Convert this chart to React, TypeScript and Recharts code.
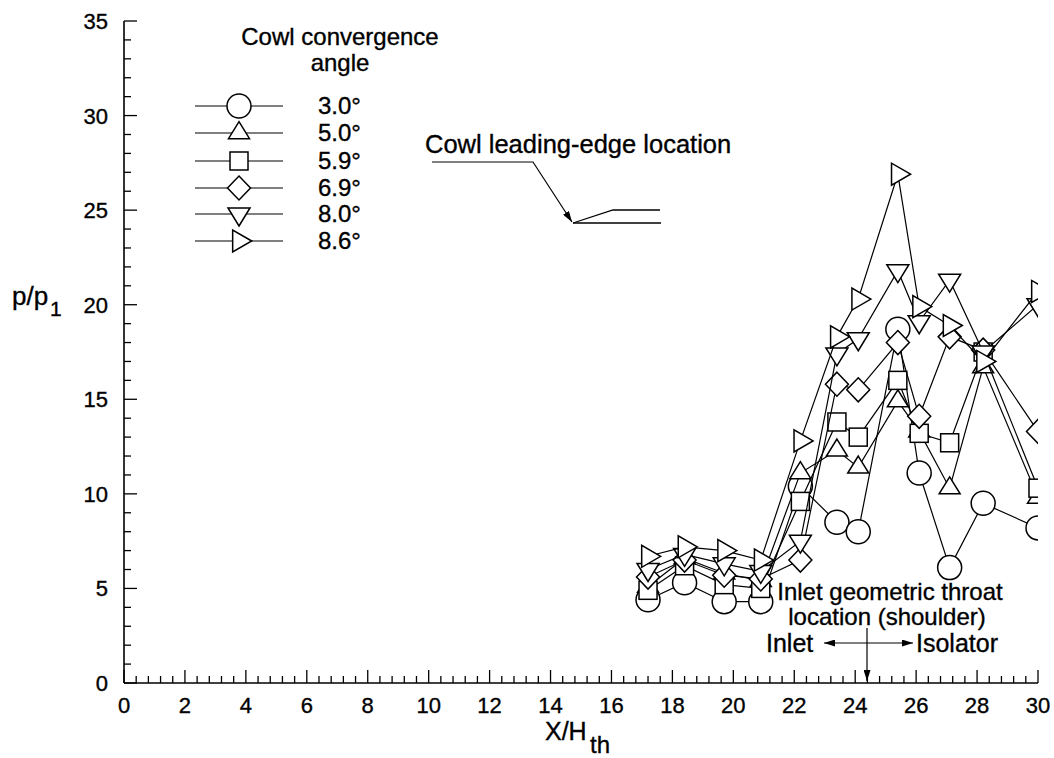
import React from "react";
import { ScatterChart, Scatter, XAxis, YAxis } from "recharts";

// stations along the ramp, X/H_th
const stations = [17.2, 18.4, 19.7, 20.9, 22.2, 23.4, 24.1, 25.4, 26.1, 27.1, 28.2, 30.0];

// p/p1 for each cowl convergence angle
const angle30 = [4.4, 5.3, 4.3, 4.3, 10.4, 8.5, 8.0, 18.7, 11.1, 6.1, 9.5, 8.2];
const angle50 = [5.1, 6.6, 5.8, 5.4, 11.1, 12.3, 11.4, 14.9, 13.3, 10.3, 16.7, 9.8];
const angle59 = [4.9, 6.2, 5.2, 5.0, 9.6, 13.8, 13.0, 16.0, 13.2, 12.7, 17.5, 10.3];
const angle69 = [5.6, 6.5, 5.7, 5.5, 6.5, 15.8, 15.5, 18.0, 14.1, 18.3, 17.6, 13.3];
const angle80 = [6.0, 6.8, 6.3, 5.9, 7.5, 17.4, 18.2, 21.8, 19.1, 21.3, 17.5, 20.0];
const angle86 = [6.7, 7.2, 7.0, 6.5, 12.8, 18.3, 20.3, 26.9, 19.9, 18.9, 17.0, 20.7];

const legendLabels = ["3.0°", "5.0°", "5.9°", "6.9°", "8.0°", "8.6°"];
const markerKinds = ["circle", "up", "square", "diamond", "down", "right"] as const;

const xMajorTicks = [0, 2, 4, 6, 8, 10, 12, 14, 16, 18, 20, 22, 24, 26, 28, 30];
const yMajorTicks = [0, 5, 10, 15, 20, 25, 30, 35];

type Kind = (typeof markerKinds)[number];

const FONT = "'Liberation Sans', Arial, Helvetica, sans-serif";
// a hairline stroke on text to get closer to the heavier scanned lettering
const INK = { fill: "#000", stroke: "#000", strokeWidth: 0.35 };

function subdivide(major: number[], parts: number) {
  const out: number[] = [];
  for (let i = 0; i < major.length - 1; i++) {
    const step = (major[i + 1] - major[i]) / parts;
    for (let k = 0; k < parts; k++) out.push(+(major[i] + k * step).toFixed(3));
  }
  out.push(major[major.length - 1]);
  return out;
}

const xTicks = subdivide(xMajorTicks, 5);
const yTicks = subdivide(yMajorTicks, 5);

const seriesValues = [angle30, angle50, angle59, angle69, angle80, angle86];
const series = seriesValues.map((vals, i) => ({
  label: legendLabels[i],
  kind: markerKinds[i] as Kind,
  data: stations.map((x, j) => ({ x, y: vals[j] })),
}));

function Marker({ kind, cx, cy }: { kind: Kind; cx: number; cy: number }) {
  const st = { fill: "#fff", stroke: "#000", strokeWidth: 1.5 };
  switch (kind) {
    case "circle":
      return <circle cx={cx} cy={cy} r={12} {...st} />;
    case "square":
      return <rect x={cx - 9} y={cy - 9} width={18} height={18} {...st} />;
    case "diamond":
      return <polygon points={`${cx},${cy - 12} ${cx + 11.5},${cy} ${cx},${cy + 12} ${cx - 11.5},${cy}`} {...st} />;
    case "up": {
      const h = 17, w = 21;
      return <polygon points={`${cx},${cy - (2 * h) / 3} ${cx + w / 2},${cy + h / 3} ${cx - w / 2},${cy + h / 3}`} {...st} />;
    }
    case "down": {
      const h = 18, w = 22;
      return <polygon points={`${cx},${cy + (2 * h) / 3} ${cx + w / 2},${cy - h / 3} ${cx - w / 2},${cy - h / 3}`} {...st} />;
    }
    case "right": {
      const w = 19, h = 22;
      return <polygon points={`${cx + (2 * w) / 3},${cy} ${cx - w / 3},${cy - h / 2} ${cx - w / 3},${cy + h / 2}`} {...st} />;
    }
  }
  return null;
}

const isMajor = (v: number, list: number[]) => list.some((m) => Math.abs(m - v) < 1e-6);

const XTick = (props: any) => {
  const { x, y, payload } = props;
  const major = isMajor(payload.value, xMajorTicks);
  return (
    <g>
      <line x1={x} x2={x} y1={y} y2={y - (major ? 13 : 7)} stroke="#000" strokeWidth={1.3} />
      {major && (
        <text x={x} y={y + 30} textAnchor="middle" fontSize={22} fontFamily={FONT} {...INK}>
          {payload.value}
        </text>
      )}
    </g>
  );
};

const YTick = (props: any) => {
  const { x, y, payload } = props;
  const major = isMajor(payload.value, yMajorTicks);
  return (
    <g>
      <line x1={x} x2={x + (major ? 13 : 7)} y1={y} y2={y} stroke="#000" strokeWidth={1.3} />
      {major && (
        <text x={x - 16} y={y + 8} textAnchor="end" fontSize={22} fontFamily={FONT} {...INK}>
          {payload.value}
        </text>
      )}
    </g>
  );
};

const legendRows = [106, 133, 161, 188, 214, 241];

export default function App() {
  return (
    <div style={{ position: "absolute", left: 0, top: 0, width: 1054, height: 758, background: "#fff" }}>
      <ScatterChart width={1054} height={758} margin={{ top: 21, right: 16, bottom: 0, left: 0 }}>
        <XAxis
          type="number"
          dataKey="x"
          domain={[0, 30]}
          ticks={xTicks}
          interval={0}
          tick={XTick}
          tickLine={false}
          tickSize={0}
          tickMargin={0}
          height={75}
          axisLine={{ stroke: "#000", strokeWidth: 1.6 }}
          allowDataOverflow
        />
        <YAxis
          type="number"
          dataKey="y"
          domain={[0, 35]}
          ticks={yTicks}
          interval={0}
          tick={YTick}
          tickLine={false}
          tickSize={0}
          tickMargin={0}
          width={124}
          axisLine={{ stroke: "#000", strokeWidth: 1.6 }}
          allowDataOverflow
        />
        {series.map((s) => (
          <Scatter
            key={s.label}
            name={s.label}
            data={s.data}
            line={{ stroke: "#000", strokeWidth: 1.2 }}
            shape={(p: any) => <Marker kind={s.kind} cx={p.cx} cy={p.cy} />}
            isAnimationActive={false}
          />
        ))}
      </ScatterChart>

      <svg width={1054} height={758} style={{ position: "absolute", left: 0, top: 0, pointerEvents: "none" }} fontFamily={FONT}>
        <defs>
          <marker id="ah" viewBox="0 0 11 7" refX={11} refY={3.5} markerWidth={11} markerHeight={7} markerUnits="userSpaceOnUse" orient="auto-start-reverse">
            <path d="M0,0 L11,3.5 L0,7 z" fill="#000" />
          </marker>
        </defs>

        {/* legend */}
        <text x={340} y={45} textAnchor="middle" fontSize={24} {...INK}>Cowl convergence</text>
        <text x={340} y={71} textAnchor="middle" fontSize={24} {...INK}>angle</text>
        {series.map((s, i) => (
          <g key={s.label}>
            <line x1={195} x2={283} y1={legendRows[i]} y2={legendRows[i]} stroke="#000" strokeWidth={1.2} />
            <Marker kind={s.kind} cx={239} cy={legendRows[i]} />
            <text x={318} y={legendRows[i] + 8} fontSize={24} {...INK}>{s.label}</text>
          </g>
        ))}

        {/* cowl leading edge */}
        <text x={425} y={153} fontSize={25.5} {...INK}>Cowl leading-edge location</text>
        <polyline points="432,162 533,162 572,222" fill="none" stroke="#000" strokeWidth={1.2} markerEnd="url(#ah)" />
        <polyline points="573,223 613,210 660,210" fill="none" stroke="#000" strokeWidth={1.3} />
        <line x1={573} x2={661} y1={223} y2={223} stroke="#000" strokeWidth={1.6} />

        {/* throat annotation */}
        <text x={890} y={600} textAnchor="middle" fontSize={24} {...INK}>Inlet geometric throat</text>
        <text x={887} y={625} textAnchor="middle" fontSize={24} {...INK}>location (shoulder)</text>
        <text x={766} y={652} fontSize={25} {...INK}>Inlet</text>
        <text x={916} y={652} fontSize={25} {...INK}>Isolator</text>
        <line x1={867} x2={824} y1={643} y2={643} stroke="#000" strokeWidth={1.2} markerEnd="url(#ah)" />
        <line x1={867} x2={913} y1={643} y2={643} stroke="#000" strokeWidth={1.2} markerEnd="url(#ah)" />
        <line x1={867} x2={867} y1={628} y2={681} stroke="#000" strokeWidth={1.2} markerEnd="url(#ah)" />

        {/* axis titles */}
        <text x={12} y={305} fontSize={26} {...INK}>p/p</text>
        <text x={50} y={316} fontSize={21} {...INK}>1</text>
        <text x={545} y={740} fontSize={25} {...INK}>X/H</text>
        <text x={590} y={753} fontSize={24} {...INK}>th</text>
      </svg>
    </div>
  );
}
